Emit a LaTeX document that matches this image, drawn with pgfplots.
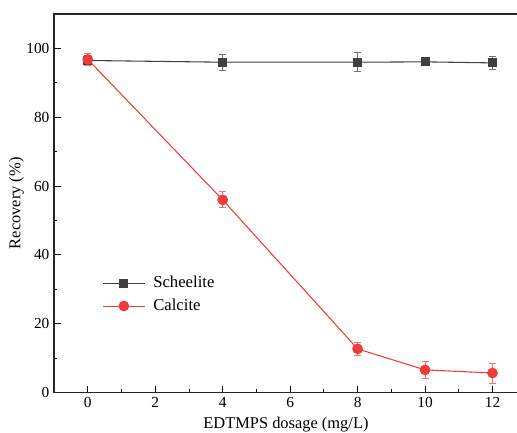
\documentclass[border=0pt]{standalone}
\usepackage{fontspec}
\setmainfont{Liberation Serif}
\usepackage{pgfplots}
\pgfplotsset{compat=1.18}
\definecolor{sgray}{HTML}{404040}
\definecolor{sgrayerr}{HTML}{707070}
\definecolor{cred}{HTML}{EF3B3B}
\definecolor{crederr}{HTML}{F27272}
\begin{document}
\begin{tikzpicture}
\begin{axis}[
  name=ax,
  scale only axis,
  width=347.25pt, height=283.5pt,
  xmin=-1, xmax=12.75, ymin=0, ymax=110,
  xtick={0,2,...,12}, ytick={0,20,...,100},
  minor x tick num=1, minor y tick num=1,
  tick align=inside, xtick pos=lower, ytick pos=left,
  major tick length=5pt, minor tick length=2.5pt,
  axis line style={line width=0.9pt, black!85},
  every tick/.style={black, line width=0.7pt},
  /pgf/number format/assume math mode=true,
  tick label style={font=\fontsize{11.5}{13}\selectfont},
  label style={font=\fontsize{12.3}{14}\selectfont},
  xlabel={EDTMPS dosage (mg/L)},
  ylabel={Recovery (\%)},
  xlabel style={yshift=-0.5pt},
  ylabel style={yshift=-5pt},
  legend style={at={(0.095,0.322)}, anchor=north west, draw=none, fill=none,
    font=\fontsize{12.5}{14}\selectfont, row sep=3pt},
  legend cell align=left,
  legend image code/.code={\draw[mark repeat=2,mark phase=2,#1] plot coordinates {(0cm,0cm) (0.55cm,0cm) (1.1cm,0cm)};\path (1.24cm,0cm);},
]
\addplot[sgray, line width=0.8pt, mark=square*, mark size=3pt, mark options={fill=sgray, draw=sgray},
  error bars/.cd, y dir=both, y explicit,
  error bar style={sgrayerr, line width=0.7pt},
  error mark options={rotate=90, mark size=2.6pt, sgrayerr, line width=0.7pt}]
  coordinates {
  (0,96.5) +- (0,1.5)
  (4,96.0) +- (0,2.3)
  (8,96.0) +- (0,2.7)
  (10,96.1) +- (0,1.0)
  (12,95.8) +- (0,1.9)
  };
\addlegendentry{Scheelite}
\addplot[cred, line width=0.8pt, mark=*, mark size=3.6pt, mark options={fill=cred, draw=cred},
  error bars/.cd, y dir=both, y explicit,
  error bar style={crederr, line width=0.7pt},
  error mark options={rotate=90, mark size=2.6pt, crederr, line width=0.7pt}]
  coordinates {
  (0,96.8) +- (0,1.8)
  (4,56.0) +- (0,2.3)
  (8,12.7) +- (0,1.9)
  (10,6.6) +- (0,2.5)
  (12,5.7) +- (0,2.9)
  };
\addlegendentry{Calcite}
\end{axis}
\pgfresetboundingbox
\path ([xshift=-40.5pt,yshift=10.5pt]ax.north west) rectangle ([xshift=-0.6pt,yshift=-30pt]ax.south east);
\end{tikzpicture}
\end{document}
